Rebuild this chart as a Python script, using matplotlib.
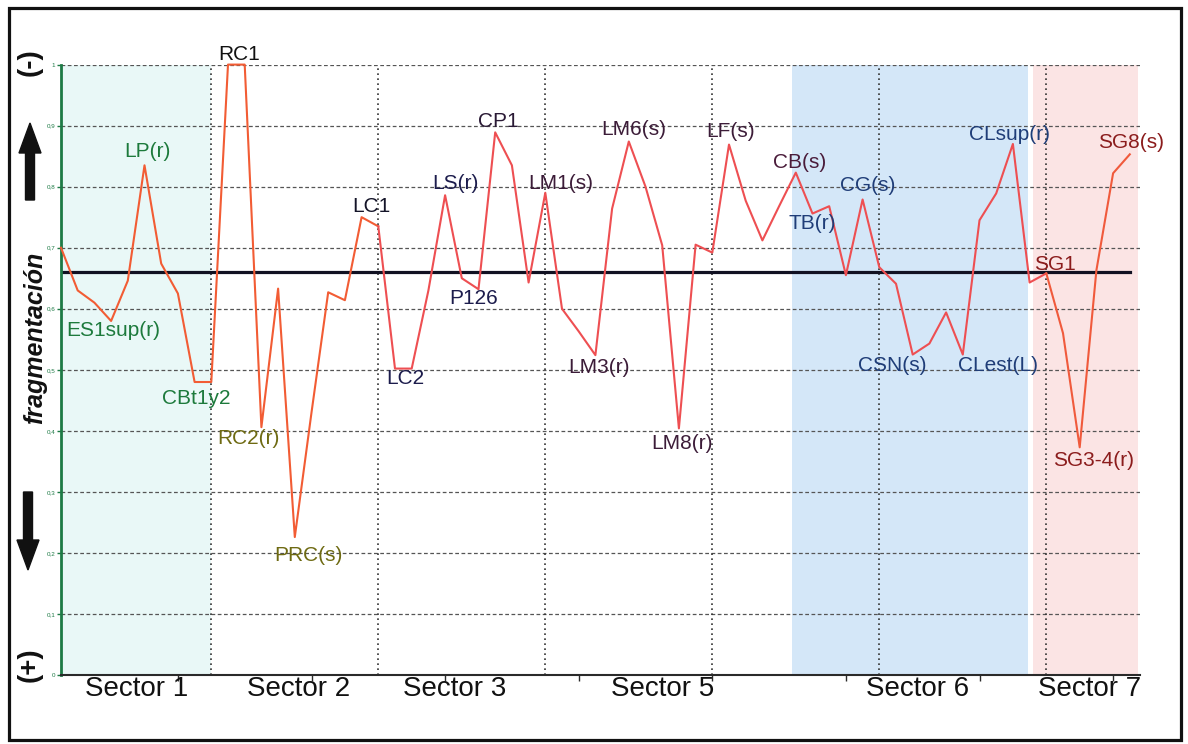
import matplotlib
matplotlib.use("Agg")
import matplotlib.pyplot as plt
from matplotlib.patches import Rectangle, FancyArrow

# fragmentation value for each sampled site (left to right)
frag = [0.70, 0.63, 0.61, 0.58, 0.646, 0.835, 0.674, 0.625, 0.48, 0.48,
        1.0, 1.0, 0.406, 0.633, 0.226, 0.43, 0.627, 0.614, 0.75, 0.735,
        0.502, 0.502, 0.63, 0.786, 0.65, 0.632, 0.889, 0.835, 0.643, 0.79,
        0.60, 0.563, 0.524, 0.764, 0.874, 0.80, 0.704, 0.404, 0.705, 0.692,
        0.869, 0.777, 0.712, 0.768, 0.823, 0.756, 0.768, 0.655, 0.779, 0.668,
        0.641, 0.525, 0.543, 0.594, 0.525, 0.745, 0.789, 0.87, 0.643, 0.658,
        0.56, 0.373, 0.663, 0.822, 0.853]
mean_frag = 0.66

site_names = ["LP(r)", "ES1sup(r)", "CBt1y2", "RC1", "RC2(r)", "PRC(s)",
              "LC1", "LC2", "LS(r)", "P126", "CP1", "LM1(s)", "LM3(r)",
              "LM6(s)", "LM8(r)", "LF(s)", "CB(s)", "TB(r)", "CG(s)",
              "CSN(s)", "CLest(L)", "CLsup(r)", "SG1", "SG3-4(r)", "SG8(s)"]
sector_names = ["Sector 1", "Sector 2", "Sector 3", "Sector 5", "Sector 6", "Sector 7"]
ytick_vals = [0, 0.1, 0.2, 0.3, 0.4, 0.5, 0.6, 0.7, 0.8, 0.9, 1.0]
ytick_text = ["0", "0,1", "0,2", "0,3", "0,4", "0,5", "0,6", "0,7", "0,8", "0,9", "1"]

# layout: where each site label sits (x index, y value) and its colour
label_pos = [(5.15, 0.858), (3.1, 0.565), (8.1, 0.453), (10.66, 1.016), (11.2, 0.388),
             (14.8, 0.196), (18.6, 0.768), (20.6, 0.486), (23.6, 0.805), (24.7, 0.617),
             (26.2, 0.907), (29.9, 0.805), (32.2, 0.504), (34.3, 0.893), (37.2, 0.38),
             (40.1, 0.89), (44.2, 0.84), (45.0, 0.74), (48.3, 0.802), (49.8, 0.507),
             (56.1, 0.507), (56.8, 0.885), (59.5, 0.673), (61.8, 0.352), (64.1, 0.872)]
green, olive, navy, plum, blue, red = "#1d7a3c", "#6e6a12", "#1c1c4c", "#3c1c38", "#1f3d78", "#8b1c1c"
label_col = [green, green, green, "#111111", olive, olive, "#141428", navy, navy, navy,
             "#2a1a35", plum, plum, plum, plum, plum, "#4a1c3a", blue, blue, blue,
             blue, blue, red, red, red]
sector_x = [4.55, 14.2, 23.6, 36.0, 51.3, 61.6]

W, H = 1188, 744
fig = plt.figure(figsize=(W / 100, H / 100), dpi=100)
plt.rcParams["font.family"] = ["Liberation Sans", "DejaVu Sans"]

x0, x1, y0, y1 = 61, 1140, 675, 64.6
ax = fig.add_axes([x0 / W, 1 - y0 / H, (x1 - x0) / W, (y0 - y1) / H])
xs = list(range(len(frag)))
xmax = (x1 - x0) / 16.7
ax.set_xlim(0, xmax)
ax.set_ylim(0, 1)

# coloured sector backgrounds
ax.axvspan(0, 9, color="#e9f8f7", zorder=0, lw=0)
ax.axvspan(43.8, 57.9, color="#d4e7f8", zorder=0, lw=0)
ax.axvspan(58.2, 64.5, color="#fbe4e4", zorder=0, lw=0)

# grid
for v in ytick_vals[1:]:
    ax.axhline(v, color="#555555", lw=0.9, ls=(0, (3, 2)), zorder=1)
for v in [9, 19, 29, 39, 49, 59]:
    ax.axvline(v, color="#333333", lw=1.2, ls=(0, (1, 2)), zorder=1)

ax.plot([0, 64.0], [mean_frag, mean_frag], color="#111122", lw=2.3, zorder=2)
# line is orange in sectors 1-2 and 7, pinker red in between
ax.plot(xs[:20], frag[:20], color="#f25c34", lw=1.5, zorder=3, clip_on=False)
ax.plot(xs[19:60], frag[19:60], color="#ee4f52", lw=1.5, zorder=3)
ax.plot(xs[59:], frag[59:], color="#f05a3c", lw=1.5, zorder=3)

for name, (tx, ty), c in zip(site_names, label_pos, label_col):
    ax.text(tx, ty, name, ha="center", va="center", fontsize=15, color=c,
            zorder=4, clip_on=False)

for name, sx in zip(sector_names, sector_x):
    ax.text(sx, -0.023, name, ha="center", va="center", fontsize=20,
            color="#111111", clip_on=False)

# axes styling
for s in ["top", "right"]:
    ax.spines[s].set_visible(False)
ax.spines["left"].set_color("#1d7a45")
ax.spines["left"].set_linewidth(2)
ax.spines["bottom"].set_color("#2a2a2a")
ax.spines["bottom"].set_linewidth(1.5)
ax.set_yticks(ytick_vals)
ax.set_yticklabels(ytick_text)
ax.tick_params(axis="y", length=3, width=1, color="#1d7a45", labelsize=4.5,
               labelcolor="#1d7a45", pad=1)
ax.set_xticks([7 + 8 * k for k in range(8)])
ax.set_xticklabels([])
ax.tick_params(axis="x", length=4, width=1, color="#2a2a2a")

# decorations in pixel space
deco = fig.add_axes([0, 0, 1, 1], zorder=-1)
deco.set_xlim(0, W)
deco.set_ylim(H, 0)
deco.axis("off")
deco.add_patch(Rectangle((9, 8), 1172, 732, fill=False, lw=2.3, ec="#111111"))
deco.add_patch(FancyArrow(30, 200, 0, -77, width=9, head_width=22, head_length=30,
                          length_includes_head=True, color="#111111"))
deco.add_patch(FancyArrow(28, 492, 0, 78, width=9, head_width=22, head_length=30,
                          length_includes_head=True, color="#111111"))
deco.text(30, 62, "(-)", rotation=90, ha="center", va="center", fontsize=20,
          fontweight="bold", color="#111111")
deco.text(30, 665, "(+)", rotation=90, ha="center", va="center", fontsize=20,
          fontweight="bold", color="#111111")
deco.text(35, 338, "fragmentación", rotation=90, ha="center", va="center",
          fontsize=18, fontweight="bold", fontstyle="italic", color="#111111")

fig.savefig("out.png", dpi=100, facecolor="white")
